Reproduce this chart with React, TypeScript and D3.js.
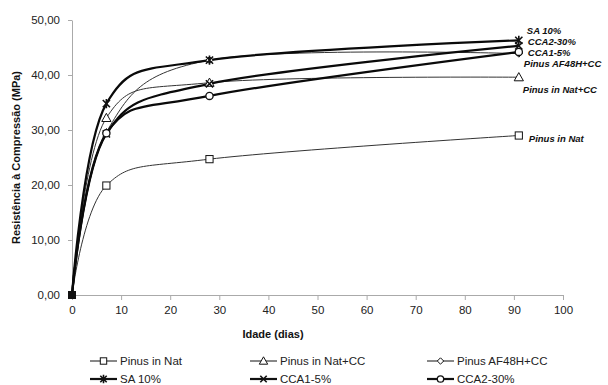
import React, { useEffect, useRef } from "react";
import * as d3 from "d3";

// idade (dias)
const days = [0, 7, 28, 91];

const pinusNat = [0, 19.9, 24.7, 29.0];
const pinusNatCC = [0, 32.2, 38.6, 39.6];
const pinusAF48 = [0, 29.6, 42.7, 43.9];
const sa10 = [0, 34.8, 42.7, 46.3];
const cca1 = [0, 29.3, 38.4, 45.3];
const cca2 = [0, 29.4, 36.2, 44.2];

const seriesNames = ["Pinus in Nat", "Pinus in Nat+CC", "Pinus AF48H+CC", "SA 10%", "CCA1-5%", "CCA2-30%"];
const seriesValues = [pinusNat, pinusNatCC, pinusAF48, sa10, cca1, cca2];
const seriesMarkers = ["square", "triangle", "diamond", "star", "cross", "circle"];
const seriesThick = [false, false, false, true, true, true];
// end labels: [dx, dy] relative to last point
const endLabelOffset = [
  [10, 2],
  [4, 12],
  [5, 9],
  [8, -9],
  [9, -4],
  [9, 3],
];
// label order for the crowded top end
const endLabelY = [null, null, 63, 30, 52, 41];

const xTicks = d3.range(0, 101, 10);
const yTicks = d3.range(0, 51, 10);

const W = 608;
const H = 385;
const m = { left: 72, right: 45, top: 20, bottom: 90 };

const FONT = "Liberation Sans, Arial, sans-serif";

function drawMarker(g: any, type: string, x: number, y: number, thick: boolean, k = 1) {
  const sw = thick ? 1.6 : 1;
  const s = 4 * k;
  if (type === "square") {
    g.append("rect").attr("x", x - s).attr("y", y - s).attr("width", 2 * s).attr("height", 2 * s)
      .attr("fill", "white").attr("stroke", "#111").attr("stroke-width", 1);
  } else if (type === "triangle") {
    g.append("path").attr("d", `M${x},${y - s - 1}L${x + s + 1},${y + s}L${x - s - 1},${y + s}Z`)
      .attr("fill", "white").attr("stroke", "#111").attr("stroke-width", 1);
  } else if (type === "diamond") {
    g.append("path").attr("d", `M${x},${y - s}L${x + s},${y}L${x},${y + s}L${x - s},${y}Z`)
      .attr("fill", "white").attr("stroke", "#111").attr("stroke-width", 1);
  } else if (type === "circle") {
    g.append("circle").attr("cx", x).attr("cy", y).attr("r", s)
      .attr("fill", "white").attr("stroke", "#111").attr("stroke-width", 1.3);
  } else if (type === "cross") {
    g.append("path").attr("d", `M${x - s},${y - s}L${x + s},${y + s}M${x - s},${y + s}L${x + s},${y - s}`)
      .attr("stroke", "#111").attr("stroke-width", sw);
  } else if (type === "star") {
    g.append("path").attr("d", `M${x - s},${y - s}L${x + s},${y + s}M${x - s},${y + s}L${x + s},${y - s}M${x},${y - s - 1}L${x},${y + s + 1}`)
      .attr("stroke", "#111").attr("stroke-width", sw);
  }
}

export default function App() {
  const ref = useRef<SVGSVGElement>(null);

  useEffect(() => {
    const svg = d3.select(ref.current);
    svg.selectAll("*").remove();

    const x = d3.scaleLinear().domain([0, 100]).range([m.left, W - m.right]);
    const y = d3.scaleLinear().domain([0, 50]).range([H - m.bottom, m.top]);

    // axes
    const xAxis = svg.append("g").attr("transform", `translate(0,${y(0)})`)
      .call(d3.axisBottom(x).tickValues(xTicks).tickSize(5).tickPadding(6).tickSizeOuter(0));
    const yAxis = svg.append("g").attr("transform", `translate(${x(0)},0)`)
      .call(d3.axisLeft(y).tickValues(yTicks).tickSize(4).tickPadding(8).tickSizeOuter(0)
        .tickFormat((d: any) => d3.format(".2f")(d).replace(".", ",")));
    [xAxis, yAxis].forEach((a) => {
      a.select(".domain").attr("stroke", "#aaa");
      a.selectAll(".tick line").attr("stroke", "#aaa");
      a.selectAll(".tick text").attr("fill", "#222").style("font-family", FONT).style("font-size", "11.5px");
    });

    // titles
    svg.append("text").attr("x", 273).attr("y", 338).attr("text-anchor", "middle")
      .style("font-family", FONT).style("font-size", "11px").style("font-weight", "bold").attr("fill", "#111")
      .text("Idade (dias)");
    svg.append("text").attr("transform", `translate(20,${(y(0) + y(50)) / 2}) rotate(-90)`)
      .attr("text-anchor", "middle")
      .style("font-family", FONT).style("font-size", "11px").style("font-weight", "bold").attr("fill", "#111")
      .text("Resistência à Compressão (MPa)");

    const line = d3.line<number>()
      .x((_, i) => x(days[i]))
      .y((d) => y(d))
      .curve(d3.curveCardinal.tension(0));

    const plot = svg.append("g");
    seriesValues.forEach((vals, s) => {
      plot.append("path").attr("d", line(vals))
        .attr("fill", "none").attr("stroke", seriesThick[s] ? "#0a0a0a" : "#333")
        .attr("stroke-width", seriesThick[s] ? 2.2 : 1);
    });
    seriesValues.forEach((vals, s) => {
      vals.forEach((v, i) => {
        if (i === 0) return;
        drawMarker(plot, seriesMarkers[s], x(days[i]), y(v), seriesThick[s], 0.9);
      });
    });
    // all series start at 0: overlapping markers make a black block
    plot.append("rect").attr("x", x(0) - 4).attr("y", y(0) - 4).attr("width", 8).attr("height", 8).attr("fill", "#111");

    // end labels
    seriesValues.forEach((vals, s) => {
      const last = vals.length - 1;
      const lx = x(days[last]) + endLabelOffset[s][0];
      const ly = endLabelY[s] !== null ? (endLabelY[s] as number) + 4 : y(vals[last]) + endLabelOffset[s][1] + 4;
      svg.append("text").attr("x", lx).attr("y", ly)
        .style("font-family", FONT).style("font-size", "9.5px").style("font-weight", "bold").style("font-style", "italic")
        .attr("fill", "#111").text(seriesNames[s]);
    });

    // legend
    const colX = [90, 250, 427];
    const rowY = [361, 379];
    seriesNames.forEach((name, s) => {
      const cx = colX[s % 3];
      const cy = rowY[Math.floor(s / 3)];
      const lg = svg.append("g");
      lg.append("line").attr("x1", cx).attr("x2", cx + 27).attr("y1", cy).attr("y2", cy)
        .attr("stroke", "#111").attr("stroke-width", seriesThick[s] ? 2.2 : 1);
      drawMarker(lg, seriesMarkers[s], cx + 13.5, cy, seriesThick[s], 0.8);
      lg.append("text").attr("x", cx + 30).attr("y", cy + 4)
        .style("font-family", FONT).style("font-size", "11.5px").attr("fill", "#222").text(name);
    });
  }, []);

  return (
    <svg ref={ref} width={W} height={H} style={{ position: "absolute", left: 0, top: 0, background: "white" }} />
  );
}
